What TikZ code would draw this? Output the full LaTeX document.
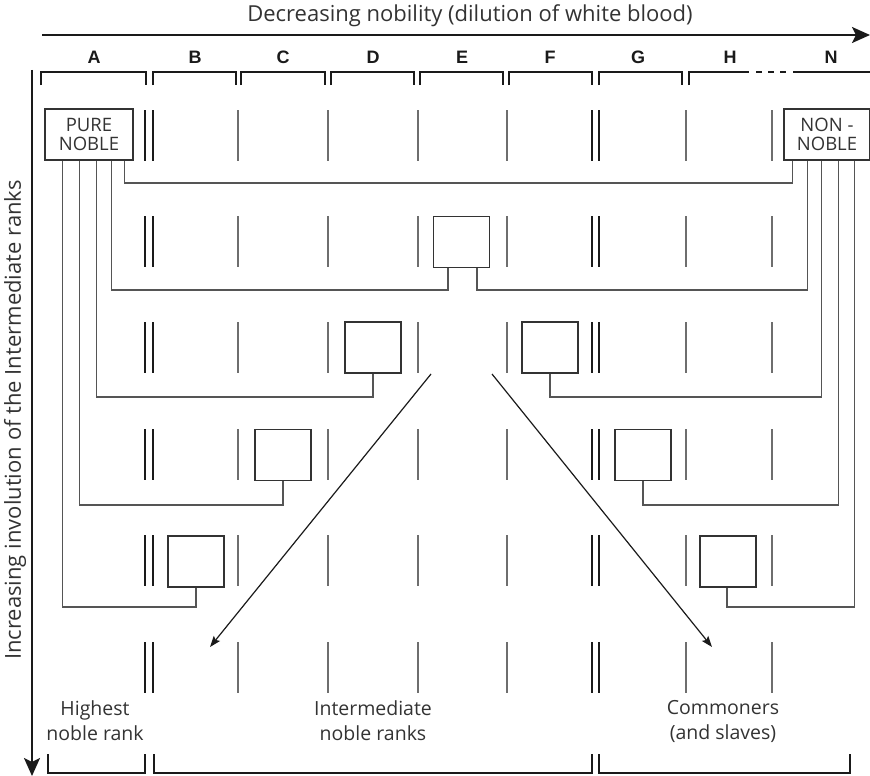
\documentclass[tikz,border=0pt]{standalone}
\usepackage{fontspec}
\setmainfont{Open Sans}
\newfontfamily\letterfont{Liberation Sans}
\usetikzlibrary{arrows.meta,calc}

\definecolor{ink}{HTML}{1A1A1A}
\definecolor{boxline}{HTML}{333333}
\definecolor{wire}{HTML}{555555}
\definecolor{gridgray}{HTML}{6E6E6E}
\definecolor{labelgray}{HTML}{333333}

\begin{document}
\begin{tikzpicture}[x=1pt,y=-1pt,
  gridline/.style={draw=gridgray, line width=1.2pt},
  dblline/.style={draw=ink, line width=2pt},
  bracketline/.style={draw=ink, line width=2pt},
  axisarrow/.style={draw=ink, line width=2.2pt, -{Stealth[length=18pt,width=16pt,inset=4pt]}},
  trendarrow/.style={draw=ink, line width=1.2pt, -{Stealth[length=11pt,width=8pt,inset=2pt]}},
  wireline/.style={draw=wire, line width=1.3pt},
  rankbox/.style={draw=boxline, line width=1.6pt, fill=white, inner sep=0pt,
                  minimum width=56pt, minimum height=51pt},
  endbox/.style={draw=boxline, line width=1.6pt, fill=white, inner sep=0pt,
                 minimum width=88pt, minimum height=51pt, align=center,
                 font=\fontsize{18.5}{19.5}\selectfont, text=labelgray},
  collabel/.style={font=\letterfont\bfseries\fontsize{18}{19}\selectfont, text=ink},
  grouplabel/.style={align=center, font=\fontsize{19.5}{25}\selectfont, text=labelgray},
  axislabel/.style={font=\fontsize{22}{24}\selectfont, text=labelgray}
]
\useasboundingbox (0,0) rectangle (870,776);

% axes
\coordinate (xstart) at (42,35);
\coordinate (xend) at (870,35);
\coordinate (ystart) at (32,70);
\coordinate (yend) at (32,776);
\draw[axisarrow] (xstart) -- (xend);
\draw[axisarrow] (ystart) -- (yend);
\node[axislabel] (xlabel) at (470,16) {Decreasing nobility (dilution of white blood)};
\node[axislabel, rotate=90] (ylabel) at (15,420) {Increasing involution of the Intermediate ranks};

% column letters
\foreach \lab/\x in {A/94,B/195,C/283,D/373,E/462,F/550,G/638,H/730,N/831}
  \node[collabel] (col\lab) at (\x,57) {\lab};

% column brackets
\foreach \a/\b in {41/146,153/236,241/325,331/414,420/503,509/592,599/682}
  \draw[bracketline] (\a,85) -- (\a,72) -- (\b,72) -- (\b,85);
\draw[bracketline] (689,85) -- (689,72) -- (749,72);
\draw[bracketline, dash pattern=on 6pt off 6pt] (756,72) -- (790,72);
\draw[bracketline] (793,72) -- (870,72);

% rank dividers, one set per row
\foreach \r in {110,216,322,429,535,642} {
  \foreach \x in {238,328,418,507,686,772}
    \draw[gridline] (\x,\r) -- ++(0,51);
  \foreach \x in {145,153,592,599}
    \draw[dblline] (\x,\r) -- ++(0,51);
}

% group brackets at the foot
\draw[bracketline] (48,754) -- (48,773) -- (145,773) -- (145,754);
\draw[bracketline] (154,754) -- (154,773) -- (592,773) -- (592,754);
\draw[bracketline] (599,754) -- (599,773) -- (850,773) -- (850,754);
\node[grouplabel] (lhigh) at (95,721) {Highest\\noble rank};
\node[grouplabel] (lmid) at (373,721) {Intermediate\\noble ranks};
\node[grouplabel] (llow) at (723,721) {Commoners\\(and slaves)};

% end groups
\node[endbox] (pure) at (89,134.5) {PURE\\NOBLE};
\node[endbox, minimum width=86pt] (non) at (827,134.5) {NON -\\NOBLE};

% mixed ranks
\node[rankbox] (e) at (461.5,242) {};
\node[rankbox] (d) at (373,347.5) {};
\node[rankbox] (f) at (550,347.5) {};
\node[rankbox] (c) at (283,455) {};
\node[rankbox] (g) at (643,455) {};
\node[rankbox] (b) at (196,561.5) {};
\node[rankbox] (h) at (728,561.5) {};

% levels of the crossing lines
\coordinate (h1) at (0,183);
\coordinate (h2) at (0,290);
\coordinate (h3) at (0,397);
\coordinate (h4) at (0,505);
\coordinate (h5) at (0,607);

% pure with non-noble
\draw[wireline] (pure.south west) ++(80,0) |- ($(h1 -| non.south west)+(9,0)$) -- ($(non.south west)+(9,0)$);
% into E
\draw[wireline] (pure.south west) ++(67,0) |- ($(h2 -| e.south)+(-13.5,0)$) -- ($(e.south)+(-13.5,0)$);
\draw[wireline] (non.south west) ++(24,0) |- ($(h2 -| e.south)+(15.5,0)$) -- ($(e.south)+(15.5,0)$);
% into D and F
\draw[wireline] (pure.south west) ++(52,0) |- (h3 -| d.south) -- (d.south);
\draw[wireline] (non.south west) ++(38,0) |- (h3 -| f.south) -- (f.south);
% into C and G
\draw[wireline] (pure.south west) ++(35,0) |- (h4 -| c.south) -- (c.south);
\draw[wireline] (non.south west) ++(55,0) |- (h4 -| g.south) -- (g.south);
% into B and H
\draw[wireline] (pure.south west) ++(18,0) |- (h5 -| b.south) -- (b.south);
\draw[wireline] (non.south west) ++(71,0) |- ($(h5 -| h.south)+(-1,0)$) -- ($(h.south)+(-1,0)$);

% spreading of the intermediate ranks
\coordinate (lstart) at (431,374);
\coordinate (lend) at (210,647);
\coordinate (rstart) at (492,374);
\coordinate (rend) at (712,647);
\draw[trendarrow] (lstart) -- (lend);
\draw[trendarrow] (rstart) -- (rend);
\end{tikzpicture}
\end{document}
